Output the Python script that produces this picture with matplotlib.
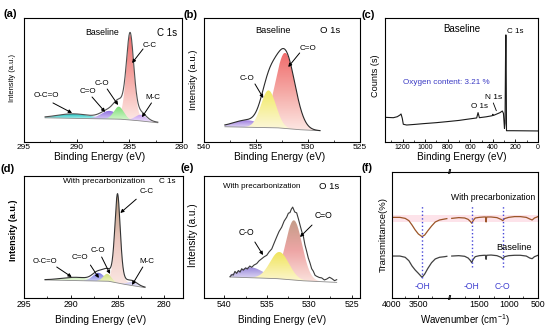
import numpy as np
import matplotlib
matplotlib.use('Agg')
import matplotlib.pyplot as plt
from matplotlib.path import Path
from matplotlib.patches import PathPatch
from matplotlib.colors import LinearSegmentedColormap

plt.rcParams['font.family'] = ['Liberation Sans', 'DejaVu Sans']
plt.rcParams['mathtext.default'] = 'regular'

# ---- (a) C 1s, baseline : fitted components (centre eV, height, fwhm, lorentz part)
a_names = ['O-C=O', 'C=O', 'C-O', 'C-C', 'M-C']
a_center = [290.3, 286.9, 286.0, 284.93, 283.9]
a_height = [0.035, 0.065, 0.10, 0.69, 0.05]
a_fwhm = [3.6, 1.8, 1.1, 0.85, 1.2]
a_mix = [0.0, 0.0, 0.0, 0.25, 0.0]
a_range = [293.0, 282.3]
a_bg_be = [293.0, 286.0, 284.5, 282.3]
a_bg = [0.195, 0.185, 0.175, 0.155]

# ---- (b) O 1s, baseline
b_names = ['O-C=O', 'C-O', 'C=O']
b_center = [535.9, 533.8, 532.2]
b_height = [0.056, 0.30, 0.61]
b_fwhm = [3.0, 1.7, 2.2]
b_mix = [0.0, 0.0, 0.0]
b_range = [538.0, 528.85]
b_bg_be = [538.0, 533.0, 531.0, 528.85]
b_bg = [0.123, 0.115, 0.100, 0.091]

# ---- (c) survey spectrum, baseline
c_be = [1355, 1281, 1246, 1222, 1213, 1202, 1193, 1163, 1090, 1015, 900, 808, 700, 631,
        543, 531, 519, 460, 405, 400, 395, 336, 316, 306, 297, 292, 286, 283, 279, 219, 100, 0]
c_counts = [0.199, 0.196, 0.204, 0.218, 0.226, 0.191, 0.143, 0.137, 0.142, 0.148, 0.156, 0.164,
            0.174, 0.183, 0.194, 0.237, 0.196, 0.203, 0.212, 0.224, 0.214, 0.237, 0.25, 0.231,
            0.110, 0.151, 0.863, 0.863, 0.091, 0.091, 0.090, 0.089]

# ---- (d) C 1s, with precarbonization
d_names = ['O-C=O', 'C=O', 'C-O', 'C-C', 'M-C']
d_center = [289.5, 287.05, 286.1, 285.0, 283.4]
d_height = [0.025, 0.067, 0.06, 0.73, 0.03]
d_fwhm = [3.5, 1.4, 1.0, 0.7, 1.2]
d_mix = [0.0, 0.0, 0.0, 0.35, 0.0]
d_range = [292.75, 282.06]
d_bg_be = [292.75, 286.0, 284.5, 282.06]
d_bg = [0.148, 0.138, 0.115, 0.085]

# ---- (e) O 1s, with precarbonization
e_names = ['O-C=O', 'C-O', 'C=O']
e_center = [536.9, 533.5, 531.8]
e_height = [0.085, 0.22, 0.49]
e_fwhm = [3.4, 2.6, 2.3]
e_mix = [0.0, 0.0, 0.0]
e_range = [539.33, 526.75]
e_bg_be = [539.33, 534.0, 531.0, 526.75]
e_bg = [0.172, 0.160, 0.142, 0.128]
e_raw_be = [539.33, 539.1, 538.94, 538.75, 538.55, 538.35, 538.15, 537.95, 537.76, 537.5,
            537.29, 537.0, 536.77, 536.5, 536.18, 535.9, 535.59, 535.3, 535.0, 534.7, 534.41,
            534.1, 533.83, 533.55, 533.24, 532.95, 532.65, 532.45, 532.26, 532.1, 531.94,
            531.7, 531.47, 531.25, 531.08, 530.88, 530.68, 530.5, 530.29, 530.1, 529.9, 529.7,
            529.51, 529.3, 529.11, 528.8, 528.52, 528.2, 527.93, 527.6, 527.34, 527.0, 526.75]
e_raw = [0.175, 0.192, 0.188, 0.218, 0.202, 0.225, 0.212, 0.240, 0.228, 0.247, 0.238, 0.262,
         0.252, 0.270, 0.282, 0.305, 0.322, 0.338, 0.350, 0.380, 0.402, 0.455, 0.500, 0.545,
         0.580, 0.630, 0.662, 0.695, 0.700, 0.728, 0.745, 0.705, 0.698, 0.645, 0.600, 0.548,
         0.505, 0.438, 0.382, 0.328, 0.288, 0.240, 0.220, 0.186, 0.178, 0.168, 0.165, 0.148,
         0.155, 0.170, 0.160, 0.142, 0.150]

# ---- (f) FTIR, broken wavenumber axis
f_hi_left_wn = [4000, 3850, 3750, 3680, 3620, 3560, 3500, 3430, 3380, 3320, 3250, 3180, 3100, 3000, 2960]
f_hi_left = [0.640, 0.640, 0.632, 0.614, 0.579, 0.540, 0.508, 0.487, 0.500, 0.534, 0.571, 0.603, 0.619, 0.627, 0.630]
f_lo_left = [0.333, 0.333, 0.323, 0.296, 0.254, 0.222, 0.196, 0.164, 0.190, 0.235, 0.280, 0.310, 0.323, 0.328, 0.331]
f_right_wn = [1970, 1850, 1750, 1690, 1650, 1630, 1605, 1570, 1500, 1420, 1395, 1385, 1375, 1300,
              1200, 1130, 1100, 1070, 1000, 900, 800, 700, 640, 600, 560, 500]
f_hi_right = [0.632, 0.638, 0.635, 0.624, 0.606, 0.593, 0.614, 0.635, 0.640, 0.643, 0.643, 0.603, 0.643,
              0.643, 0.638, 0.624, 0.614, 0.630, 0.640, 0.646, 0.646, 0.640, 0.627, 0.619, 0.635, 0.646]
f_lo_right = [0.333, 0.336, 0.331, 0.317, 0.296, 0.280, 0.307, 0.328, 0.336, 0.339, 0.339, 0.307, 0.339,
              0.341, 0.336, 0.323, 0.310, 0.328, 0.336, 0.339, 0.339, 0.333, 0.317, 0.312, 0.328, 0.339]
f_marks_wn = [3430, 1630, 1100]
f_marks = ['-OH', '-OH', 'C-O']

fig = plt.figure(figsize=(5.5, 3.33), dpi=100)


def box(l, t, r, b):
    return [l / 550, 1 - b / 333, (r - l) / 550, (b - t) / 333]


def peak(x, c, h, w, m=0.0):
    u = (x - c) / w
    return h * ((1 - m) * np.exp(-4 * np.log(2) * u ** 2) + m / (1 + 4 * u ** 2))


def shade(ax, x, lo, hi, cols, z):
    verts = np.vstack([np.column_stack([x, hi]), np.column_stack([x[::-1], lo[::-1]])])
    clip = PathPatch(Path(verts), facecolor='none', edgecolor='none')
    ax.add_patch(clip)
    cmap = LinearSegmentedColormap.from_list('g', cols)
    im = ax.imshow(np.linspace(0, 1, 128).reshape(-1, 1), cmap=cmap, origin='lower', aspect='auto',
                   extent=[x.min(), x.max(), lo.min(), hi.max()], zorder=z, interpolation='bilinear')
    im.set_clip_path(clip)


def xps(ax, rng, bg_be, bg_v, cen, hgt, fw, mix, cols, order, lc, envelope=True):
    x = np.linspace(rng[0], rng[1], 600)
    bg = np.interp(x, bg_be[::-1], bg_v[::-1])
    total = bg.copy()
    for i in range(len(cen)):
        total += peak(x, cen[i], hgt[i], fw[i], mix[i])
    for k, i in enumerate(order):
        p = peak(x, cen[i], hgt[i], fw[i], mix[i])
        m = p > 0.002
        shade(ax, x[m], bg[m], bg[m] + p[m], cols[i], 2 + k * 0.1)
    ax.plot(x, bg, color='#8a8a8a', lw=0.6, zorder=4)
    if envelope:
        ax.plot(x, total, color=lc, lw=0.8, zorder=5)


def style(ax, xlim, ticks, minor, tsize):
    ax.set_xlim(*xlim)
    ax.set_ylim(0, 1)
    ax.set_xticks(ticks)
    ax.set_xticks(minor, minor=True)
    ax.set_yticks([])
    ax.tick_params(axis='x', which='major', direction='in', length=2, width=0.6, labelsize=tsize, pad=1.5)
    ax.tick_params(axis='x', which='minor', direction='in', length=1.2, width=0.5)
    for s in ax.spines.values():
        s.set_linewidth(0.8)


def arrow(ax, tail, head):
    ax.annotate('', xy=head, xytext=tail,
                arrowprops=dict(arrowstyle='-|>', lw=0.7, color='k', mutation_scale=5,
                                shrinkA=0, shrinkB=0), zorder=8)


def labels(ax, xl, xc, yl, yc, xs, ys, yw='normal'):
    ax.set_xlabel('Binding Energy (eV)' if xl is None else xl, fontsize=xs, va='center')
    ax.xaxis.set_label_coords(*xc)
    ax.set_ylabel(yl, fontsize=ys, va='center', weight=yw)
    ax.yaxis.set_label_coords(*yc)


# ---------------- (a)
ax = fig.add_axes(box(24, 18, 182, 142))
a_cols = [['#b8f2ee', '#1fc4c4'], ['#dcd2f6', '#8a68e0'], ['#d4f6cc', '#78de72'],
          ['#fdece8', '#f5aaa6', '#ef6c6c'], ['#eee2fb', '#c49af0']]
xps(ax, a_range, a_bg_be, a_bg, a_center, a_height, a_fwhm, a_mix, a_cols, [3, 0, 1, 2, 4], '#505050')
style(ax, (295, 280), [295, 290, 285, 280], [292.5, 287.5, 282.5], 6)
labels(ax, None, (0.48, -0.121), 'Intensity (a.u.)', (-0.07, 0.516), 7.3, 5.4)
ax.text(287.6, 0.887, 'Baseline', fontsize=6.3, ha='center', va='center')
ax.text(281.4, 0.879, 'C 1s', fontsize=7, ha='center', va='center')
ax.text(283.1, 0.782, 'C-C', fontsize=5.8, ha='center', va='center')
arrow(ax, (283.7, 0.75), (284.74, 0.637))
ax.text(287.6, 0.473, 'C-O', fontsize=5.8, ha='center', va='center')
arrow(ax, (287.1, 0.427), (286.07, 0.298))
ax.text(288.9, 0.406, 'C=O', fontsize=5.8, ha='center', va='center')
arrow(ax, (288.54, 0.363), (287.3, 0.242))
ax.text(292.9, 0.371, 'O-C=O', fontsize=5.8, ha='center', va='center')
arrow(ax, (292.25, 0.315), (290.44, 0.234))
ax.text(282.8, 0.357, 'M-C', fontsize=5.8, ha='center', va='center')
arrow(ax, (282.9, 0.315), (283.8, 0.2))

# ---------------- (b)
ax = fig.add_axes(box(204, 18, 360, 142))
b_cols = [['#e6def6', '#9e7ee0'], ['#fcf7da', '#f2ea66'], ['#fde8e4', '#f5aaa6', '#f06c6c']]
xps(ax, b_range, b_bg_be, b_bg, b_center, b_height, b_fwhm, b_mix, b_cols, [2, 0, 1], '#2a2a2a')
style(ax, (540, 525), [540, 535, 530, 525], [537.5, 532.5, 527.5], 6)
labels(ax, None, (0.487, -0.118), 'Intensity (a.u.)', (-0.069, 0.5), 7.3, 6.8)
ax.text(533.4, 0.898, 'Baseline', fontsize=6.6, ha='center', va='center')
ax.text(527.9, 0.898, 'O 1s', fontsize=6.8, ha='center', va='center')
ax.text(530.0, 0.755, 'C=O', fontsize=5.9, ha='center', va='center')
arrow(ax, (530.8, 0.718), (531.9, 0.605))
ax.text(535.9, 0.513, 'C-O', fontsize=5.9, ha='center', va='center')
arrow(ax, (535.1, 0.468), (534.3, 0.355))

# ---------------- (c)
ax = fig.add_axes(box(385, 18, 538, 142))
ax.plot(c_be, c_counts, color='#1a1a1a', lw=0.8)
style(ax, (1355, 0), [1200, 1000, 800, 600, 400, 200, 0], [1300, 1100, 900, 700, 500, 300, 100], 5)
labels(ax, None, (0.503, -0.121), 'Counts (s)', (-0.059, 0.532), 7.2, 6.6)
ax.text(673, 0.911, 'Baseline', fontsize=7, ha='center', va='center')
ax.text(204, 0.895, 'C 1s', fontsize=5.8, ha='center', va='center')
ax.text(815, 0.476, 'Oxygen content: 3.21 %', fontsize=5.9, color='#3a3ac4', ha='center', va='center')
ax.text(396, 0.36, 'N 1s', fontsize=6, ha='center', va='center')
ax.text(520, 0.285, 'O 1s', fontsize=5.8, ha='center', va='center')
ax.annotate('', xy=(369, 0.252), xytext=(396, 0.315),
            arrowprops=dict(arrowstyle='-', lw=0.6, color='k', shrinkA=0, shrinkB=0))

# ---------------- (d)
ax = fig.add_axes(box(24, 176, 183, 298))
d_cols = [['#f2fbe4', '#c6eeb6'], ['#d4d4f8', '#6c6ce0'], ['#f2f6cc', '#cede78'],
          ['#fbe8e4', '#ecc8c0', '#b69a7c'], ['#eeedfb', '#c2bef0']]
xps(ax, d_range, d_bg_be, d_bg, d_center, d_height, d_fwhm, d_mix, d_cols, [3, 0, 1, 2, 4], '#333333')
style(ax, (295, 278), [295, 290, 285, 280], [292.5, 287.5, 282.5], 6.3)
labels(ax, None, (0.484, -0.18), 'Intensity (a.u.)', (-0.067, 0.557), 7.3, 6.5, 'bold')
ax.text(286.4, 0.953, 'With precarbonization', fontsize=6.0, ha='center', va='center')
ax.text(279.7, 0.953, 'C 1s', fontsize=5.9, ha='center', va='center')
ax.text(281.9, 0.875, 'C-C', fontsize=5.8, ha='center', va='center')
arrow(ax, (283.0, 0.81), (284.7, 0.697))
ax.text(287.1, 0.388, 'C-O', fontsize=5.8, ha='center', va='center')
arrow(ax, (286.7, 0.336), (285.8, 0.197))
ax.text(289.0, 0.336, 'C=O', fontsize=5.8, ha='center', va='center')
arrow(ax, (287.9, 0.27), (287.0, 0.164))
ax.text(292.75, 0.303, 'O-C=O', fontsize=5.6, ha='center', va='center')
arrow(ax, (291.5, 0.254), (289.9, 0.172))
ax.text(281.9, 0.303, 'M-C', fontsize=5.8, ha='center', va='center')
arrow(ax, (282.3, 0.254), (283.45, 0.107))

# ---------------- (e)
ax = fig.add_axes(box(204, 176, 360, 298))
e_cols = [['#e2dcf4', '#9888dc'], ['#fcf6ce', '#f0e458'], ['#fbe2dc', '#eea6a6', '#c49c88']]
xps(ax, e_range, e_bg_be, e_bg, e_center, e_height, e_fwhm, e_mix, e_cols, [2, 0, 1], '#444444', envelope=False)
ax.plot(e_raw_be, e_raw, color='#3a3a3a', lw=0.8, zorder=5)
style(ax, (542.4, 524), [540, 535, 530, 525], [537.5, 532.5, 527.5], 6.3)
labels(ax, None, (0.503, -0.18), 'Intensity (a.u.)', (-0.069, 0.516), 7.1, 7.2)
ax.text(535.6, 0.918, 'With precarbonization', fontsize=5.8, ha='center', va='center')
ax.text(527.66, 0.918, 'O 1s', fontsize=6.8, ha='center', va='center')
ax.text(528.25, 0.68, 'C=O', fontsize=6.2, ha='center', va='center')
arrow(ax, (529.66, 0.598), (531.08, 0.5))
ax.text(537.36, 0.533, 'C-O', fontsize=6.2, ha='center', va='center')
arrow(ax, (536.4, 0.459), (535.44, 0.352))

# ---------------- (f)
axl = fig.add_axes(box(392, 172, 450, 298))
axr = fig.add_axes(box(450, 172, 538, 298))
for a in (axl, axr):
    a.axhspan(0.603, 0.659, color='#fde3ea', lw=0, zorder=0)
axl.plot(f_hi_left_wn, f_hi_left, color='#9c5528', lw=0.9)
axl.plot(f_hi_left_wn, f_lo_left, color='#404040', lw=0.9)
axr.plot(f_right_wn, f_hi_right, color='#9c5528', lw=0.9)
axr.plot(f_right_wn, f_lo_right, color='#404040', lw=0.9)
style(axl, (4000, 2900), [4000, 3500], [3750, 3250], 6.3)
style(axr, (2000, 500), [1500, 1000, 500], [1750, 1250, 750], 6.3)
axl.spines['right'].set_visible(False)
axr.spines['left'].set_visible(False)
axl.vlines(f_marks_wn[0], 0.159, 0.738, colors='#4848d8', linestyles=':', lw=1.0)
axr.vlines(f_marks_wn[1:], 0.246, 0.738, colors='#4848d8', linestyles=':', lw=1.0)
axl.text(f_marks_wn[0], 0.095, f_marks[0], color='#4040d0', fontsize=6.2, ha='center', va='center')
for w, t in zip(f_marks_wn[1:], f_marks[1:]):
    axr.text(w, 0.095, t, color='#4040d0', fontsize=6.2, ha='center', va='center')
axr.text(1268, 0.794, 'With precarbonization', fontsize=6.2, ha='center', va='center')
axr.text(910, 0.397, 'Baseline', fontsize=6.6, ha='center', va='center')
for yy in (0, 1):
    axr.text(0, yy, '//', transform=axr.transAxes, fontsize=5.5, weight='bold', ha='center', va='center')
axl.set_xlabel('Wavenumber (cm$^{-1}$)', fontsize=7, va='center')
axl.xaxis.set_label_coords(1.259, -0.175)
axl.set_ylabel('Transmittance(%)', fontsize=6.8, va='center')
axl.yaxis.set_label_coords(-0.155, 0.5)

# panel letters
for s, x, y in [('(a)', 10, 14), ('(b)', 191, 15), ('(c)', 368, 15),
                ('(d)', 8, 169), ('(e)', 187, 168), ('(f)', 367, 168)]:
    fig.text(x / 550, 1 - y / 333, s, fontsize=8, weight='bold', ha='center', va='center')

fig.savefig('out.png', dpi=100)
